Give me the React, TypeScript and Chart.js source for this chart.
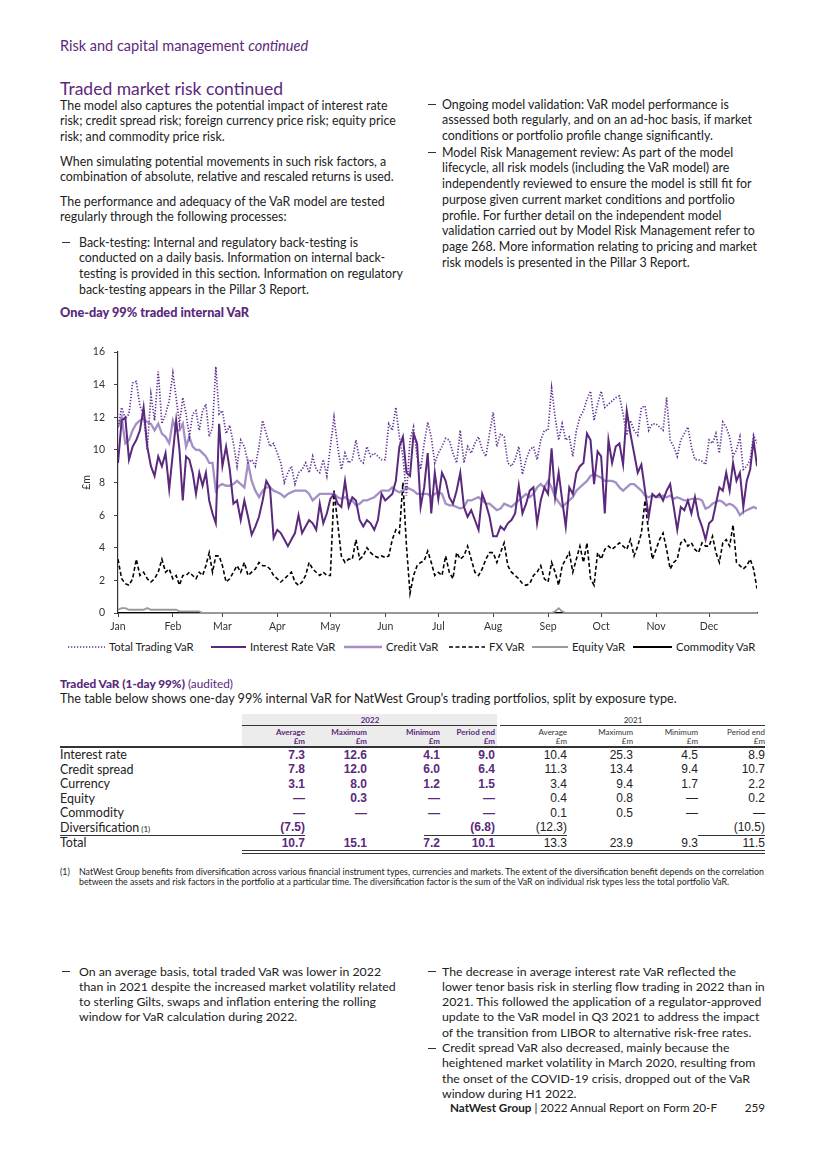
import React, { useEffect, useRef } from 'react';
import { Chart, registerables } from 'chart.js';

Chart.register(...registerables);

const FONT = 'Lato, "Noto Sans", sans-serif';
const NUMFONT = '"Liberation Sans", Arial, sans-serif';
const PURPLE = '#5a287d';

// ---------- chart data ----------
const months = ['Jan', 'Feb', 'Mar', 'Apr', 'May', 'Jun', 'Jul', 'Aug', 'Sep', 'Oct', 'Nov', 'Dec'];
const monthStartDay = [0, 31, 59, 90, 120, 151, 181, 212, 243, 273, 304, 334];
const monthSpanDays = [31, 28, 31, 30, 31, 30, 31, 31, 30, 31, 30, 29];
const pointsPerMonth = 15;

const totalTradingVaR = [
  11.4, 12.6, 11.9, 12.2, 14.1, 14.2, 12.7, 12.1, 10.0, 13.4, 11.8, 14.8, 11.6, 12.2, 13.0,
  14.7, 13.2, 11.6, 13.2, 12.2, 10.8, 12.2, 12.4, 11.2, 12.4, 12.8, 10.8, 11.4, 15.1, 12.2,
  12.4, 11.0, 11.5, 10.4, 9.0, 10.6, 10.2, 9.2, 9.4, 9.0, 10.2, 11.8, 11.0, 10.2, 10.4,
  9.8, 9.2, 8.0, 8.6, 9.0, 7.9, 8.6, 8.8, 9.2, 8.6, 9.6, 8.8, 8.6, 9.4, 8.4,
  10.2, 12.0, 10.2, 8.8, 9.8, 9.2, 9.4, 10.6, 9.4, 9.2, 10.2, 9.6, 9.8, 9.6, 9.4,
  9.4, 11.6, 11.2, 12.6, 10.8, 9.6, 7.2, 10.6, 11.4, 9.6, 8.8, 10.4, 11.7, 10.8, 9.2,
  9.8, 10.2, 10.7, 10.6, 9.8, 9.2, 11.2, 9.2, 10.2, 9.8, 10.4, 10.8, 10.0, 9.6, 11.0,
  12.3, 10.2, 11.0, 10.8, 9.2, 9.0, 9.4, 10.2, 8.5, 9.4, 10.0, 10.2, 9.4, 10.6, 11.2,
  11.2, 13.8, 12.0, 10.6, 11.6, 10.6, 10.8, 9.6, 11.2, 12.0, 12.4, 13.1, 13.6, 11.8, 12.8,
  13.6, 12.6, 12.8, 13.0, 13.2, 13.3, 12.2, 10.9, 11.8, 11.2, 10.9, 12.6, 12.7, 11.2, 11.6,
  11.6, 11.4, 11.2, 13.2, 10.6, 10.2, 9.6, 10.6, 11.0, 11.4, 10.2, 9.4, 9.4, 9.3, 9.1,
  10.6, 10.4, 11.0, 9.8, 11.7, 11.4, 10.8, 9.6, 10.0, 10.8, 8.8, 9.0, 9.4, 10.9, 10.4,
];

const interestRateVaR = [
  9.2, 11.8, 12.0, 9.4, 10.2, 10.6, 11.2, 12.6, 10.2, 9.0, 8.4, 9.6, 9.0, 9.8, 7.6,
  9.8, 11.8, 10.0, 6.9, 9.6, 9.4, 8.6, 7.3, 8.6, 7.8, 8.6, 6.9, 6.1, 5.5, 11.6,
  9.0, 10.2, 8.8, 6.7, 6.9, 5.7, 6.9, 5.9, 4.8, 5.3, 5.9, 6.9, 8.1, 7.7, 4.6,
  5.1, 4.9, 4.5, 4.1, 4.5, 4.9, 6.0, 4.9, 5.3, 5.7, 5.5, 5.1, 6.7, 5.5, 6.1,
  7.0, 7.3, 6.7, 6.5, 8.1, 6.5, 7.1, 6.9, 5.7, 5.3, 5.7, 5.5, 5.1, 5.7, 7.3,
  6.9, 7.1, 7.3, 8.1, 10.2, 10.8, 8.6, 8.4, 11.0, 10.4, 6.5, 7.7, 9.8, 6.1, 8.6,
  7.0, 8.6, 8.1, 7.1, 6.7, 7.5, 8.6, 6.5, 5.9, 6.3, 5.7, 5.1, 7.3, 6.7, 5.9,
  4.7, 4.7, 5.3, 5.1, 5.5, 5.7, 6.1, 7.8, 6.1, 6.7, 7.5, 7.7, 5.5, 6.9, 7.7,
  7.3, 10.1, 7.1, 8.6, 6.9, 5.3, 7.7, 7.3, 8.6, 9.0, 9.2, 11.0, 10.6, 7.9, 9.9,
  9.6, 6.1, 10.6, 9.2, 10.2, 10.4, 9.1, 12.4, 11.0, 9.8, 8.6, 9.1, 7.5, 5.9, 7.3,
  7.1, 7.3, 6.9, 7.5, 7.9, 6.5, 5.1, 6.5, 6.3, 6.9, 6.1, 7.1, 5.9, 5.3, 4.5,
  5.5, 5.7, 6.7, 7.7, 7.5, 8.6, 7.5, 9.2, 8.1, 8.6, 6.5, 8.1, 8.8, 10.6, 9.0,
];

const creditVaR = [
  11.4, 12.0, 10.4, 10.6, 11.2, 11.6, 11.8, 11.9, 11.7, 11.6, 11.2, 11.6, 11.0, 10.8, 10.4,
  11.8, 11.2, 11.2, 11.6, 10.2, 10.8, 10.2, 10.0, 10.0, 9.8, 9.6, 9.2, 9.2, 7.5, 7.8,
  7.9, 7.8, 7.8, 7.9, 8.1, 7.9, 7.7, 9.2, 8.1, 7.5, 7.1, 7.5, 7.7, 7.7, 7.5,
  7.4, 7.3, 7.1, 7.3, 7.4, 7.5, 7.5, 7.5, 7.5, 7.3, 6.9, 7.1, 7.3, 7.3, 7.3,
  7.3, 7.3, 7.1, 7.0, 7.1, 6.9, 6.9, 6.6, 6.7, 6.9, 6.9, 7.0, 7.1, 7.3, 7.5,
  7.5, 7.5, 7.7, 7.5, 7.4, 7.5, 7.7, 7.6, 7.5, 7.3, 7.3, 7.3, 7.3, 7.1, 7.3,
  7.4, 7.3, 6.7, 6.6, 6.6, 6.5, 6.4, 6.5, 6.9, 6.9, 7.0, 7.1, 6.9, 6.7, 6.7,
  6.5, 6.3, 6.4, 6.7, 6.6, 6.5, 6.7, 6.9, 7.1, 7.3, 7.1, 7.3, 7.7, 7.9, 7.7,
  8.1, 7.7, 7.1, 6.8, 6.5, 6.7, 6.9, 7.1, 7.5, 7.7, 7.9, 8.1, 8.4, 8.5, 8.4,
  8.3, 8.1, 8.1, 8.1, 8.0, 7.7, 7.5, 7.7, 7.9, 7.9, 7.7, 7.5, 7.2, 7.1, 7.2,
  7.1, 7.1, 7.2, 7.1, 7.2, 7.0, 7.1, 7.0, 6.9, 6.9, 7.0, 7.0, 7.0, 6.9, 6.4,
  6.5, 6.7, 6.8, 6.9, 6.8, 6.6, 6.7, 6.6, 6.4, 6.0, 6.2, 6.3, 6.4, 6.5, 6.4,
];

const fxVaR = [
  3.3, 2.1, 1.8, 1.7, 2.1, 3.3, 2.3, 2.5, 2.1, 1.9, 2.1, 2.5, 3.3, 2.5, 2.7,
  2.1, 2.3, 1.7, 2.3, 2.3, 2.5, 2.3, 2.1, 2.5, 2.3, 2.9, 3.7, 2.5, 3.5, 3.5,
  2.9, 1.9, 2.1, 2.5, 2.9, 2.5, 3.1, 2.3, 2.5, 2.7, 3.1, 2.9, 2.9, 2.7, 2.3,
  2.1, 1.9, 2.1, 2.3, 2.5, 1.9, 1.7, 1.9, 2.3, 3.1, 2.7, 2.5, 2.3, 2.5, 2.3,
  2.3, 7.5, 5.5, 3.5, 3.1, 3.3, 3.3, 4.5, 3.3, 3.5, 4.0, 3.7, 3.5, 3.4, 3.5,
  3.4, 3.5, 4.5, 5.1, 4.9, 8.0, 4.1, 1.2, 2.3, 2.9, 3.1, 3.2, 3.8, 3.1, 2.3,
  2.5, 2.3, 3.5, 2.5, 2.1, 3.7, 3.3, 3.5, 4.1, 3.3, 2.5, 2.3, 2.7, 3.3, 3.7,
  3.7, 3.1, 3.7, 4.3, 2.9, 2.5, 2.3, 2.1, 1.8, 1.7, 1.8, 2.3, 2.5, 2.9, 2.1,
  1.9, 3.1, 2.5, 1.7, 2.9, 3.3, 3.7, 2.5, 3.3, 4.1, 3.1, 4.3, 2.1, 1.7, 3.7,
  3.3, 3.9, 4.1, 3.9, 4.1, 4.3, 4.1, 3.9, 4.5, 3.5, 4.1, 4.9, 6.9, 4.9, 3.3,
  3.9, 4.5, 4.9, 3.9, 2.7, 3.1, 3.3, 4.3, 4.5, 4.1, 4.3, 3.9, 3.7, 4.3, 4.1,
  4.1, 4.7, 3.7, 3.1, 4.3, 4.5, 4.1, 5.4, 3.1, 2.9, 2.7, 2.9, 3.3, 2.7, 1.5,
];

const equityVaR = [
  0.2, 0.3, 0.3, 0.2, 0.2, 0.2, 0.2, 0.2, 0.3, 0.2, 0.2, 0.2, 0.2, 0.2, 0.2,
  0.2, 0.2, 0.1, 0.1, 0.1, 0.1, 0.1, 0.1, 0.1, 0.0, 0.0, 0.0, 0.0, 0.0, 0.0,
  0.0, 0.0, 0.0, 0.0, 0.0, 0.0, 0.0, 0.0, 0.0, 0.0, 0.0, 0.0, 0.0, 0.0, 0.0,
  0.0, 0.0, 0.0, 0.0, 0.0, 0.0, 0.0, 0.0, 0.0, 0.0, 0.0, 0.0, 0.0, 0.0, 0.0,
  0.0, 0.0, 0.0, 0.0, 0.0, 0.0, 0.0, 0.0, 0.0, 0.0, 0.0, 0.0, 0.0, 0.0, 0.0,
  0.0, 0.0, 0.0, 0.0, 0.0, 0.0, 0.0, 0.0, 0.0, 0.0, 0.0, 0.0, 0.0, 0.0, 0.0,
  0.0, 0.0, 0.0, 0.0, 0.0, 0.0, 0.0, 0.0, 0.0, 0.0, 0.0, 0.0, 0.0, 0.0, 0.0,
  0.0, 0.0, 0.0, 0.0, 0.0, 0.0, 0.0, 0.0, 0.0, 0.0, 0.0, 0.0, 0.0, 0.0, 0.0,
  0.0, 0.0, 0.1, 0.3, 0.1, 0.0, 0.0, 0.0, 0.0, 0.0, 0.0, 0.0, 0.0, 0.0, 0.0,
  0.0, 0.0, 0.0, 0.0, 0.0, 0.0, 0.0, 0.0, 0.0, 0.0, 0.0, 0.0, 0.0, 0.0, 0.0,
  0.0, 0.0, 0.0, 0.0, 0.0, 0.0, 0.0, 0.0, 0.0, 0.0, 0.0, 0.0, 0.0, 0.0, 0.0,
  0.0, 0.0, 0.0, 0.0, 0.0, 0.0, 0.0, 0.0, 0.0, 0.0, 0.0, 0.0, 0.0, 0.0, 0.0,
];

const commodityVaR = [
  0, 0, 0, 0, 0, 0, 0, 0, 0, 0, 0, 0, 0, 0, 0,
  0, 0, 0, 0, 0, 0, 0, 0, 0, 0, 0, 0, 0, 0, 0,
  0, 0, 0, 0, 0, 0, 0, 0, 0, 0, 0, 0, 0, 0, 0,
  0, 0, 0, 0, 0, 0, 0, 0, 0, 0, 0, 0, 0, 0, 0,
  0, 0, 0, 0, 0, 0, 0, 0, 0, 0, 0, 0, 0, 0, 0,
  0, 0, 0, 0, 0, 0, 0, 0, 0, 0, 0, 0, 0, 0, 0,
  0, 0, 0, 0, 0, 0, 0, 0, 0, 0, 0, 0, 0, 0, 0,
  0, 0, 0, 0, 0, 0, 0, 0, 0, 0, 0, 0, 0, 0, 0,
  0, 0, 0, 0, 0, 0, 0, 0, 0, 0, 0, 0, 0, 0, 0,
  0, 0, 0, 0, 0, 0, 0, 0, 0, 0, 0, 0, 0, 0, 0,
  0, 0, 0, 0, 0, 0, 0, 0, 0, 0, 0, 0, 0, 0, 0,
  0, 0, 0, 0, 0, 0, 0, 0, 0, 0, 0, 0, 0, 0, 0,
];

const yTicks = [0, 2, 4, 6, 8, 10, 12, 14, 16];

const seriesLabels = ['Total Trading VaR', 'Interest Rate VaR', 'Credit VaR', 'FX VaR', 'Equity VaR', 'Commodity VaR'];
const seriesValues = [totalTradingVaR, interestRateVaR, creditVaR, fxVaR, equityVaR, commodityVaR];
const seriesStyle = [
  { color: '#623594', width: 1.7, dash: [1.3, 1.7] },
  { color: '#5a287d', width: 2, dash: [] as number[] },
  { color: '#a48fc6', width: 2.3, dash: [] as number[] },
  { color: '#000000', width: 1.6, dash: [4, 2.5] },
  { color: '#9a9a9a', width: 1.8, dash: [] as number[] },
  { color: '#000000', width: 2, dash: [] as number[] },
];
// legend layout (sample start x, sample end x, label start x)
const legendPos = [
  [68, 105, 109], [211, 246, 250], [344, 382, 386], [449, 485, 489], [532, 568, 572], [633, 672, 676],
];

// ---------- table data ----------
const tableRows = ['Interest rate', 'Credit spread', 'Currency', 'Equity', 'Commodity', 'Diversification', 'Total'];
const colHeads = ['Average', 'Maximum', 'Minimum', 'Period end'];
const avg2022 = ['7.3', '7.8', '3.1', '—', '—', '(7.5)', '10.7'];
const max2022 = ['12.6', '12.0', '8.0', '0.3', '—', '', '15.1'];
const min2022 = ['4.1', '6.0', '1.2', '—', '—', '', '7.2'];
const end2022 = ['9.0', '6.4', '1.5', '—', '—', '(6.8)', '10.1'];
const avg2021 = ['10.4', '11.3', '3.4', '0.4', '0.1', '(12.3)', '13.3'];
const max2021 = ['25.3', '13.4', '9.4', '0.8', '0.5', '', '23.9'];
const min2021 = ['4.5', '9.4', '1.7', '—', '—', '', '9.3'];
const end2021 = ['8.9', '10.7', '2.2', '0.2', '—', '(10.5)', '11.5'];

// ---------- page text ----------
const leftLines1 = [
  'The model also captures the potential impact of interest rate',
  'risk; credit spread risk; foreign currency price risk; equity price',
  'risk; and commodity price risk.',
];
const leftLines2 = [
  'When simulating potential movements in such risk factors, a',
  'combination of absolute, relative and rescaled returns is used.',
];
const leftLines3 = [
  'The performance and adequacy of the VaR model are tested',
  'regularly through the following processes:',
];
const leftBullet = [
  'Back-testing: Internal and regulatory back-testing is',
  'conducted on a daily basis. Information on internal back-',
  'testing is provided in this section. Information on regulatory',
  'back-testing appears in the Pillar 3 Report.',
];
const rightBullet1 = [
  'Ongoing model validation: VaR model performance is',
  'assessed both regularly, and on an ad-hoc basis, if market',
  'conditions or portfolio profile change significantly.',
];
const rightBullet2 = [
  'Model Risk Management review: As part of the model',
  'lifecycle, all risk models (including the VaR model) are',
  'independently reviewed to ensure the model is still fit for',
  'purpose given current market conditions and portfolio',
  'profile. For further detail on the independent model',
  'validation carried out by Model Risk Management refer to',
  'page 268. More information relating to pricing and market',
  'risk models is presented in the Pillar 3 Report.',
];
const bottomLeft = [
  'On an average basis, total traded VaR was lower in 2022',
  'than in 2021 despite the increased market volatility related',
  'to sterling Gilts, swaps and inflation entering the rolling',
  'window for VaR calculation during 2022.',
];
const bottomRight1 = [
  'The decrease in average interest rate VaR reflected the',
  'lower tenor basis risk in sterling flow trading in 2022 than in',
  '2021. This followed the application of a regulator-approved',
  'update to the VaR model in Q3 2021 to address the impact',
  'of the transition from LIBOR to alternative risk-free rates.',
];
const bottomRight2 = [
  'Credit spread VaR also decreased, mainly because the',
  'heightened market volatility in March 2020, resulting from',
  'the onset of the COVID-19 crisis, dropped out of the VaR',
  'window during H1 2022.',
];
const footnoteLines = [
  'NatWest Group benefits from diversification across various financial instrument types, currencies and markets. The extent of the diversification benefit depends on the correlation',
  'between the assets and risk factors in the portfolio at a particular time. The diversification factor is the sum of the VaR on individual risk types less the total portfolio VaR.',
];

type TxtProps = {
  x: number; y: number; size?: number; color?: string; weight?: number;
  align?: 'left' | 'right' | 'center'; italic?: boolean; family?: string; children?: React.ReactNode;
};

function Txt({ x, y, size = 12, color = '#222', weight = 400, align = 'left', italic, family, children }: TxtProps) {
  const lh = Math.round(size * 1.4);
  const style: React.CSSProperties = {
    position: 'absolute', top: y - lh / 2, fontSize: size, lineHeight: `${lh}px`, color,
    fontWeight: weight, whiteSpace: 'nowrap', fontFamily: family || FONT, fontStyle: italic ? 'italic' : 'normal',
  };
  if (align === 'right') style.right = 825 - x;
  else if (align === 'center') { style.left = x; style.transform = 'translateX(-50%)'; }
  else style.left = x;
  return <div style={style}>{children}</div>;
}

function Lines({ x, y, lines, step = 15.75, size = 12.4, color = '#222' }: { x: number; y: number; lines: string[]; step?: number; size?: number; color?: string }) {
  return (
    <>
      {lines.map((l, i) => (
        <Txt key={i} x={x} y={y + i * step} size={size} color={color}>{l}</Txt>
      ))}
    </>
  );
}

function Dash({ x, y }: { x: number; y: number }) {
  return <div style={{ position: 'absolute', left: x, top: y, width: 8, height: 1.1, background: '#333' }} />;
}

function Rule({ x1, x2, y, w = 1, color = '#333' }: { x1: number; x2: number; y: number; w?: number; color?: string }) {
  return <div style={{ position: 'absolute', left: x1, top: y, width: x2 - x1, height: w, background: color }} />;
}

function VaRChart() {
  const ref = useRef<HTMLCanvasElement | null>(null);
  useEffect(() => {
    if (!ref.current) return;
    const xs = months.flatMap((_, m) =>
      Array.from({ length: pointsPerMonth }, (_, i) => monthStartDay[m] + (i * monthSpanDays[m]) / pointsPerMonth)
    );
    const chart = new Chart(ref.current, {
      type: 'line',
      data: {
        datasets: seriesLabels.map((label, si) => ({
          label,
          data: seriesValues[si].map((v, i) => ({ x: xs[i], y: v })),
          borderColor: seriesStyle[si].color,
          borderWidth: seriesStyle[si].width,
          borderDash: seriesStyle[si].dash,
          pointRadius: 0,
          pointHoverRadius: 0,
          tension: 0,
          fill: false,
        })),
      },
      options: {
        responsive: false,
        animation: false,
        layout: { padding: { top: 17, right: 11, bottom: 0, left: 0 } },
        plugins: {
          tooltip: { enabled: false },
          legend: { display: false },
        },
        scales: {
          x: {
            type: 'linear',
            min: 0,
            max: xs[xs.length - 1],
            afterBuildTicks: (s: any) => { s.ticks = monthStartDay.map((v) => ({ value: v })); },
            afterFit: (s: any) => { s.height = 24; },
            ticks: {
              autoSkip: false, maxRotation: 0, padding: 3, color: '#333',
              font: { family: FONT, size: 10.5 },
              callback: (_v: any, i: number) => months[i],
            },
            grid: { drawOnChartArea: false, drawTicks: true, tickLength: 4, color: '#444' },
            border: { display: true, color: '#333', width: 1.4 },
          },
          y: {
            min: 0, max: 16,
            afterBuildTicks: (s: any) => { s.ticks = yTicks.map((v) => ({ value: v })); },
            afterFit: (s: any) => { s.width = 38; },
            ticks: { padding: 9, color: '#333', font: { family: FONT, size: 10.5 } },
            grid: { drawOnChartArea: false, drawTicks: true, tickLength: 4, color: '#444' },
            border: { display: true, color: '#333', width: 1.2 },
            title: { display: true, text: '£m', color: '#333', font: { family: FONT, size: 10.5 }, padding: { top: 0, bottom: 0 } },
          },
        },
      },
    });
    return () => chart.destroy();
  }, []);
  return <canvas ref={ref} width={688} height={302} style={{ position: 'absolute', left: 80, top: 335, width: 688, height: 302 }} />;
}

function Legend() {
  return (
    <>
      {seriesLabels.map((label, i) => {
        const [s0, s1, tx] = legendPos[i];
        const st = seriesStyle[i];
        return (
          <React.Fragment key={label}>
            <svg style={{ position: 'absolute', left: s0, top: 642, width: s1 - s0, height: 10 }} width={s1 - s0} height={10}>
              <line x1={0} y1={5} x2={s1 - s0} y2={5} stroke={st.color} strokeWidth={st.width}
                strokeDasharray={st.dash.length ? st.dash.join(' ') : undefined} />
            </svg>
            <Txt x={tx} y={647} size={11.3} color="#222">{label}</Txt>
          </React.Fragment>
        );
      })}
    </>
  );
}

export default function App() {
  const colRight2022 = [305, 367, 440, 495];
  const colRight2021 = [567, 633, 698, 765];
  const rowY = [755, 769.5, 784, 798.5, 813, 827.5, 843];
  const cols2022 = [avg2022, max2022, min2022, end2022];
  const cols2021 = [avg2021, max2021, min2021, end2021];
  return (
    <div style={{ position: 'absolute', left: 0, top: 0, width: 825, height: 1168, background: '#fff', fontFamily: FONT, overflow: 'hidden' }}>
      <Txt x={60} y={46} size={14.5} color={PURPLE}>Risk and capital management <i>continued</i></Txt>
      <Txt x={60} y={88} size={17.5} color={PURPLE}>Traded market risk continued</Txt>

      <Lines x={60} y={105} lines={leftLines1} />
      <Lines x={60} y={161} lines={leftLines2} />
      <Lines x={60} y={201} lines={leftLines3} />
      <Dash x={62} y={242} />
      <Lines x={79} y={242} lines={leftBullet} />

      <Dash x={428} y={104} />
      <Lines x={442} y={104} lines={rightBullet1} />
      <Dash x={428} y={152} />
      <Lines x={442} y={152} lines={rightBullet2} />

      <Txt x={60} y={312} size={12.7} weight={900} color={PURPLE}>One-day 99% traded internal VaR</Txt>

      <VaRChart />
      <Legend />

      <Txt x={60} y={683} size={11.8} color={PURPLE}><b style={{ fontWeight: 900 }}>Traded VaR (1-day 99%)</b> (audited)</Txt>
      <Txt x={60} y={699} size={12.6}>The table below shows one-day 99% internal VaR for NatWest Group’s trading portfolios, split by exposure type.</Txt>

      <div style={{ position: 'absolute', left: 242, top: 714, width: 255, height: 32, background: '#ececec' }} />
      <Txt x={370} y={720} size={8} weight={700} color={PURPLE} align="center">2022</Txt>
      <Txt x={633} y={720} size={8} color="#333" align="center">2021</Txt>
      <Rule x1={242} x2={497} y={725} />
      <Rule x1={500} x2={765} y={725} />
      {colHeads.map((h, i) => (
        <React.Fragment key={'h' + i}>
          <Txt x={colRight2022[i]} y={732} size={8} weight={700} color={PURPLE} align="right">{h}</Txt>
          <Txt x={colRight2022[i]} y={741} size={8} weight={700} color={PURPLE} align="right">£m</Txt>
          <Txt x={colRight2021[i]} y={732} size={8} color="#333" align="right">{h}</Txt>
          <Txt x={colRight2021[i]} y={741} size={8} color="#333" align="right">£m</Txt>
        </React.Fragment>
      ))}
      <Rule x1={60} x2={765} y={746} w={1.5} />
      {tableRows.map((r, ri) => (
        <React.Fragment key={'r' + ri}>
          <Txt x={60} y={rowY[ri]} size={12.5}>
            {r}{r === 'Diversification' ? <span style={{ fontSize: 8 }}> (1)</span> : null}
          </Txt>
          {cols2022.map((c, ci) => (
            <Txt key={'a' + ci} x={colRight2022[ci]} y={rowY[ri]} size={12} weight={700} color={PURPLE} align="right" family={NUMFONT}>{c[ri]}</Txt>
          ))}
          {cols2021.map((c, ci) => (
            <Txt key={'b' + ci} x={colRight2021[ci]} y={rowY[ri]} size={12} color="#222" align="right" family={NUMFONT}>{c[ri]}</Txt>
          ))}
        </React.Fragment>
      ))}
      <Rule x1={60} x2={305} y={834.5} />
      <Rule x1={424} x2={567} y={834.5} />
      <Rule x1={698} x2={765} y={834.5} />
      <Rule x1={242} x2={765} y={850} />
      <Rule x1={242} x2={765} y={852.5} />

      <Txt x={60} y={872} size={8.8}>(1)</Txt>
      <Lines x={79} y={872} lines={footnoteLines} step={9.5} size={8.8} />

      <Dash x={62} y={971} />
      <Lines x={79} y={971} lines={bottomLeft} step={15.3} size={12.3} />
      <Dash x={428} y={971} />
      <Lines x={442} y={971} lines={bottomRight1} step={15.3} size={12.3} />
      <Dash x={428} y={1047.5} />
      <Lines x={442} y={1047.5} lines={bottomRight2} step={15.3} size={12.3} />

      <Txt x={717} y={1107} size={11.7} align="right"><b style={{ fontWeight: 700 }}>NatWest Group</b> | 2022 Annual Report on Form 20-F</Txt>
      <Txt x={765} y={1107} size={11.7} align="right">259</Txt>
    </div>
  );
}
